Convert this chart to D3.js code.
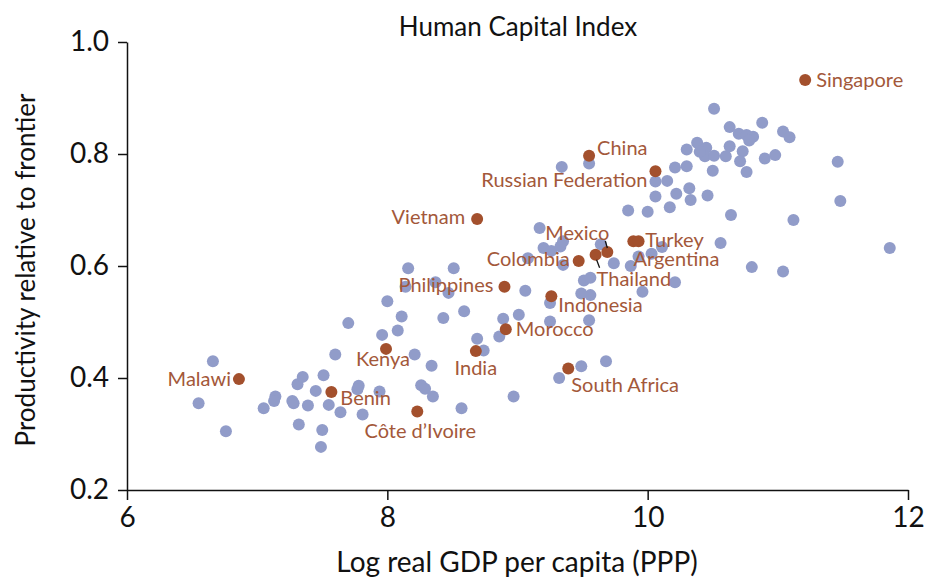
<!DOCTYPE html>
<html>
<head>
<meta charset="utf-8">
<script src="https://cdn.jsdelivr.net/npm/d3@7"></script>
<style>
body { margin: 0; background: #fff; }
svg { font-family: Lato, "Open Sans", sans-serif; }
</style>
</head>
<body>
<svg id="chart" width="927" height="578"></svg>
<script>
// unlabelled countries: log real GDP per capita (PPP) and productivity relative to frontier
var otherGdp = [
	6.55, 6.66, 6.76, 7.05, 7.14, 7.13, 7.27, 7.28, 7.31, 7.35,
	7.32, 7.39, 7.45, 7.50, 7.49, 7.51, 7.55, 7.60, 7.64, 7.70,
	7.78, 7.77, 7.81, 7.94, 7.96, 8.00, 8.08, 8.11, 8.14, 8.16,
	8.21, 8.26, 8.29, 8.35, 8.34, 8.37, 8.43, 8.47, 8.51, 8.57,
	8.59, 8.69, 8.74, 8.86, 8.89, 8.97, 9.01, 9.06, 9.08, 9.17,
	9.20, 9.25, 9.25, 9.26, 9.33, 9.35, 9.34, 9.35, 9.32, 9.49,
	9.68, 9.49, 9.56, 9.55, 9.51, 9.56, 9.55, 9.64, 9.74, 9.87,
	9.93, 10.03, 10.11, 9.85, 10.00, 10.17, 9.96, 10.21, 10.06, 10.15,
	10.06, 10.22, 10.32, 10.33, 10.46, 10.21, 10.30, 10.50, 10.76, 10.30,
	10.38, 10.45, 10.44, 10.51, 10.60, 10.63, 10.73, 10.71, 10.90, 10.98,
	10.51, 10.63, 10.88, 10.70, 10.76, 10.81, 10.78, 11.04, 11.09, 11.46,
	11.48, 10.64, 11.12, 10.56, 10.80, 11.04, 11.86, 10.40
];
var otherProd = [
	0.355, 0.430, 0.305, 0.346, 0.367, 0.359, 0.359, 0.355, 0.389, 0.402,
	0.317, 0.351, 0.377, 0.307, 0.277, 0.405, 0.352, 0.442, 0.339, 0.498,
	0.386, 0.380, 0.335, 0.376, 0.477, 0.537, 0.485, 0.510, 0.563, 0.596,
	0.442, 0.387, 0.381, 0.367, 0.422, 0.571, 0.507, 0.552, 0.596, 0.346,
	0.519, 0.470, 0.449, 0.474, 0.506, 0.367, 0.513, 0.556, 0.614, 0.668,
	0.632, 0.534, 0.501, 0.627, 0.635, 0.644, 0.777, 0.602, 0.400, 0.421,
	0.430, 0.551, 0.548, 0.503, 0.574, 0.579, 0.783, 0.639, 0.605, 0.600,
	0.617, 0.622, 0.634, 0.699, 0.697, 0.705, 0.554, 0.571, 0.751, 0.752,
	0.724, 0.729, 0.739, 0.718, 0.726, 0.776, 0.778, 0.770, 0.768, 0.808,
	0.820, 0.811, 0.796, 0.797, 0.796, 0.814, 0.805, 0.787, 0.792, 0.798,
	0.881, 0.848, 0.856, 0.836, 0.834, 0.831, 0.824, 0.840, 0.830, 0.786,
	0.716, 0.691, 0.682, 0.641, 0.598, 0.590, 0.632, 0.804
];

// labelled countries
var namedCountries = ["Singapore", "China", "Russian Federation", "Vietnam", "Turkey", "Argentina",
	"Mexico", "Thailand", "Colombia", "Philippines", "Indonesia", "Morocco", "India",
	"South Africa", "Kenya", "Malawi", "Benin", "Côte d’Ivoire"];
var namedGdp = [11.21, 9.55, 10.06, 8.69, 9.89, 9.93, 9.69, 9.60, 9.47, 8.90, 9.26, 8.91, 8.68,
	9.39, 7.99, 6.86, 7.57, 8.23];
var namedProd = [0.932, 0.797, 0.769, 0.684, 0.644, 0.644, 0.625, 0.620, 0.609, 0.563, 0.546, 0.487, 0.448,
	0.417, 0.452, 0.398, 0.375, 0.340];

var xTicks = [6, 8, 10, 12];
var yTicks = [0.2, 0.4, 0.6, 0.8, 1.0];

// label placement relative to its dot: [dx, dy, anchor, leader line]
var labelPlace = {
	"Singapore": [11, 7, "start"],
	"China": [8, -1, "start"],
	"Russian Federation": [-8, 16, "end"],
	"Vietnam": [-12, 5, "end"],
	"Turkey": [12, 6, "start"],
	"Argentina": [-5, 25, "start"],
	"Mexico": [2, -12, "end", [-2, -11, 0, -4]],
	"Thailand": [1, 31, "start", [1, 5, 4, 13]],
	"Colombia": [-9, 5, "end"],
	"Philippines": [-11, 5, "end"],
	"Indonesia": [7, 16, "start"],
	"Morocco": [10, 7, "start"],
	"India": [0, 24, "middle"],
	"South Africa": [3, 24, "start"],
	"Kenya": [-3, 17, "middle"],
	"Malawi": [-8, 7, "end"],
	"Benin": [9, 13, "start"],
	"Côte d’Ivoire": [3, 26, "middle"]
};

var margin = {top: 42, right: 19, bottom: 88, left: 127};
var width = 927 - margin.left - margin.right;
var height = 578 - margin.top - margin.bottom;

var svg = d3.select("#chart");
var g = svg.append("g").attr("transform", "translate(" + margin.left + "," + margin.top + ")");

var x = d3.scaleLinear().domain([6, 12]).range([0, width]);
var y = d3.scaleLinear().domain([0.2, 1.0]).range([height, 0]);

// axes
var yAxis = g.append("g")
	.call(d3.axisLeft(y).tickValues(yTicks).tickFormat(d3.format(".1f")).tickSize(9).tickSizeOuter(0).tickPadding(9));
var xAxis = g.append("g")
	.attr("transform", "translate(0," + height + ")")
	.call(d3.axisBottom(x).tickValues(xTicks).tickFormat(d3.format("d")).tickSize(10).tickSizeOuter(0).tickPadding(7));

[xAxis, yAxis].forEach(function(a) {
	a.selectAll("path, line").attr("stroke", "#111").attr("stroke-width", 1.5);
	a.selectAll("text").attr("fill", "#111").style("font-size", "28px").style("font-family", "Lato, sans-serif");
});

// dots
var others = otherGdp.map(function(v, i) { return {gdp: v, prod: otherProd[i]}; });
var named = namedCountries.map(function(n, i) { return {name: n, gdp: namedGdp[i], prod: namedProd[i]}; });

g.selectAll(".other")
	.data(others)
	.enter().append("circle")
	.attr("class", "other")
	.attr("cx", function(d) { return x(d.gdp); })
	.attr("cy", function(d) { return y(d.prod); })
	.attr("r", 6)
	.style("fill", "#919cc9");

g.selectAll(".named")
	.data(named)
	.enter().append("circle")
	.attr("class", "named")
	.attr("cx", function(d) { return x(d.gdp); })
	.attr("cy", function(d) { return y(d.prod); })
	.attr("r", 6)
	.style("fill", "#a3502d");

// leader lines
named.forEach(function(d) {
	var p = labelPlace[d.name];
	if (p[3]) {
		g.append("line")
			.attr("x1", x(d.gdp) + p[3][0]).attr("y1", y(d.prod) + p[3][1])
			.attr("x2", x(d.gdp) + p[3][2]).attr("y2", y(d.prod) + p[3][3])
			.attr("stroke", "#111").attr("stroke-width", 1.3);
	}
});

g.selectAll(".label")
	.data(named)
	.enter().append("text")
	.attr("class", "label")
	.attr("x", function(d) { return x(d.gdp) + labelPlace[d.name][0]; })
	.attr("y", function(d) { return y(d.prod) + labelPlace[d.name][1]; })
	.attr("text-anchor", function(d) { return labelPlace[d.name][2]; })
	.style("font-size", "20px")
	.style("fill", "#a3583a")
	.text(function(d) { return d.name; });

// titles
svg.append("text")
	.attr("x", 518).attr("y", 36)
	.attr("text-anchor", "middle")
	.style("font-size", "26px").style("fill", "#111")
	.text("Human Capital Index");

svg.append("text")
	.attr("x", 517).attr("y", 572)
	.attr("text-anchor", "middle")
	.style("font-size", "28px").style("fill", "#111")
	.text("Log real GDP per capita (PPP)");

svg.append("text")
	.attr("transform", "translate(35," + (margin.top + height / 2 + 4) + ") rotate(-90)")
	.attr("text-anchor", "middle")
	.style("font-size", "26px").style("fill", "#111")
	.text("Productivity relative to frontier");
</script>
</body>
</html>
